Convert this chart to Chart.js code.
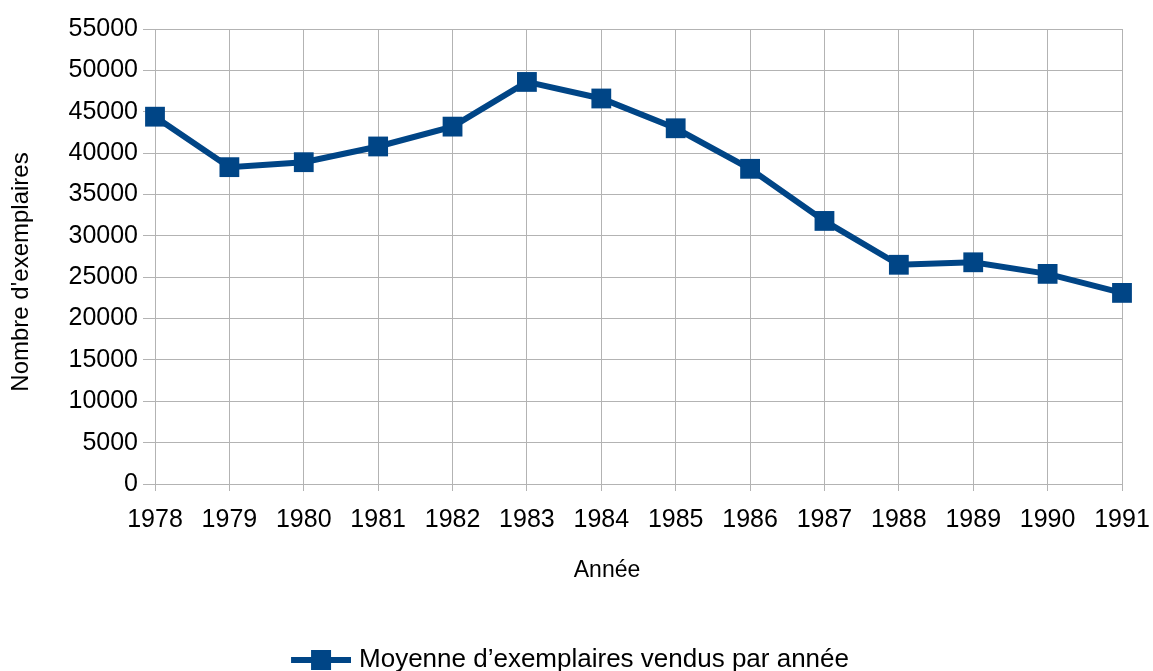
<!DOCTYPE html>
<html>
<head>
<meta charset="utf-8">
<script src="https://cdn.jsdelivr.net/npm/chart.js@4"></script>
<style>
    html, body { margin: 0; padding: 0; background: #ffffff; }
    #wrap { width: 1153px; height: 671px; }
</style>
</head>
<body>
<div id="wrap"><canvas id="ventes"></canvas></div>
<script>
const annees = ['1978', '1979', '1980', '1981', '1982', '1983', '1984', '1985', '1986', '1987', '1988', '1989', '1990', '1991'];
const moyenneVentes = [44400, 38300, 38900, 40800, 43200, 48600, 46600, 43000, 38100, 31800, 26500, 26800, 25400, 23100];
const serieNom = 'Moyenne d’exemplaires vendus par année';
const titreY = "Nombre d'exemplaires";
const titreX = 'Année';

const bleu = '#004586';
const grille = '#b3b3b3';
const police = 'Liberation Sans';

// legend symbol: a line with a square on it (left margin keeps it off the text)
function legendSymbol() {
    const c = document.createElement('canvas');
    c.width = 72;
    c.height = 22;
    const ctx = c.getContext('2d');
    ctx.fillStyle = bleu;
    ctx.fillRect(12, 8, 60, 6);
    ctx.fillRect(32, 1, 20, 20);
    return c;
}

// axis titles sit a bit off the plot centre, so they are drawn here
const axisTitles = {
    id: 'axisTitles',
    afterDraw(chart) {
        const { ctx, chartArea } = chart;
        ctx.save();
        ctx.fillStyle = '#000000';
        ctx.textAlign = 'center';
        ctx.textBaseline = 'middle';
        ctx.font = '23px "' + police + '"';
        ctx.fillText(titreX, chartArea.left + 452, chartArea.bottom + 87);
        ctx.font = '24px "' + police + '"';
        ctx.translate(21, chartArea.top + 243);
        ctx.rotate(-Math.PI / 2);
        ctx.fillText(titreY, 0, 0);
        ctx.restore();
    }
};

new Chart(document.getElementById('ventes'), {
    type: 'line',
    data: {
        labels: annees,
        datasets: [{
            label: serieNom,
            data: moyenneVentes,
            borderColor: bleu,
            backgroundColor: bleu,
            borderWidth: 6,
            pointStyle: 'rect',
            pointRadius: 14,
            pointBorderWidth: 0,
            pointBackgroundColor: bleu,
            tension: 0,
            fill: false
        }]
    },
    plugins: [axisTitles],
    options: {
        responsive: true,
        maintainAspectRatio: false,
        animation: false,
        devicePixelRatio: 1,
        layout: { padding: { top: 29, right: 31, left: 11, bottom: -12 } },
        plugins: {
            tooltip: { enabled: false },
            legend: {
                position: 'bottom',
                labels: {
                    usePointStyle: true,
                    pointStyleWidth: 62,
                    boxHeight: 22,
                    color: '#000000',
                    font: { family: police, size: 26 },
                    padding: 0,
                    generateLabels: () => [{
                        text: serieNom,
                        pointStyle: legendSymbol(),
                        fillStyle: bleu,
                        strokeStyle: bleu,
                        lineWidth: 0,
                        datasetIndex: 0
                    }]
                }
            }
        },
        scales: {
            x: {
                offset: false,
                grid: { color: grille, lineWidth: 1, tickLength: 7 },
                border: { color: grille },
                ticks: {
                    color: '#000000',
                    font: { family: police, size: 25 },
                    padding: 14,
                    maxRotation: 0,
                    autoSkip: false
                },
                afterFit: (scale) => {
                    scale.height = 163;
                    scale.paddingRight = 0;
                }
            },
            y: {
                min: 0,
                max: 55000,
                grid: { color: grille, lineWidth: 1, tickLength: 12 },
                border: { color: grille },
                ticks: {
                    stepSize: 5000,
                    color: '#000000',
                    font: { family: police, size: 25 },
                    padding: 5,
                    callback: (value) => String(value)
                },
                afterFit: (scale) => { scale.width = 144; }
            }
        }
    }
});
</script>
</body>
</html>
